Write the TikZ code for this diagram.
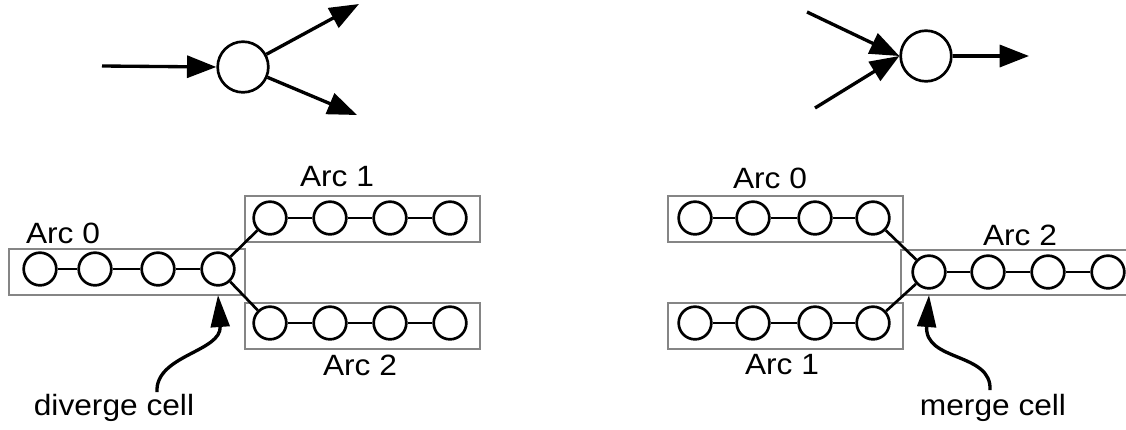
\documentclass[tikz,border=0pt]{standalone}
\usepackage{fontspec}
\setmainfont{Liberation Sans}[FakeStretch=1.08]
\usepackage{tikz}
\usetikzlibrary{arrows.meta, positioning}

\definecolor{boxgray}{RGB}{133,133,133}

\begin{document}
\begin{tikzpicture}[x=0.75pt, y=-0.75pt,
        cell/.style={circle, draw=black, line width=2pt, inner sep=0pt, minimum size=24.5pt},
        bigcell/.style={circle, draw=black, line width=2pt, inner sep=0pt, minimum size=38pt},
        arcbox/.style={draw=boxgray, line width=2pt},
        link/.style={line width=2pt},
        flow/.style={line width=2.5pt, -{Triangle[length=22pt, width=16.5pt]}},
        pointer/.style={line width=2.5pt, -{Triangle[length=24pt, width=14pt]}},
        lbl/.style={font=\fontsize{22pt}{26pt}\selectfont, inner sep=0pt}]
    \useasboundingbox (0,0) rectangle (1126,429);
    \clip (0,0) rectangle (1126,429);

    % top left: one arc splits into two
    \node[bigcell] (split) at (243,67) {};
    \coordinate (inA) at (102,66);
    \coordinate (outA) at (359,4);
    \coordinate (outB) at (357,115);
    \draw[flow] (inA) -- (split.west);
    \draw[flow] (split) -- (outA);
    \draw[flow] (split) -- (outB);

    % top right: two arcs join into one
    \node[bigcell] (join) at (926,56) {};
    \coordinate (inB) at (807,12);
    \coordinate (inC) at (815,108);
    \coordinate (outC) at (1029,56);
    \draw[flow] (inB) -- (join.west);
    \draw[flow] (inC) -- (join.west);
    \draw[flow] (join) -- (outC);

    % bottom left: diverge
    \draw[arcbox] (9,249) rectangle (245,295);
    \draw[arcbox] (245,196) rectangle (480,242);
    \draw[arcbox] (245,303) rectangle (480,349);
    \node[lbl] (dA0) at (63,233) {Arc 0};
    \node[lbl] (dA1) at (337,177) {Arc 1};
    \node[lbl] (dA2) at (360,365) {Arc 2};

    \node[cell] (d0a) at (40,269) {};
    \node[cell] (d0b) at (95,269) {};
    \node[cell] (d0c) at (158,269) {};
    \node[cell] (d0d) at (218,269) {};
    \node[cell] (d1a) at (270,218) {};
    \node[cell] (d1b) at (330,218) {};
    \node[cell] (d1c) at (390,218) {};
    \node[cell] (d1d) at (450,218) {};
    \node[cell] (d2a) at (270,323) {};
    \node[cell] (d2b) at (330,323) {};
    \node[cell] (d2c) at (390,323) {};
    \node[cell] (d2d) at (450,323) {};

    \draw[link] (d0a) -- (d0b);
    \draw[link] (d0b) -- (d0c);
    \draw[link] (d0c) -- (d0d);
    \draw[link] (d1a) -- (d1b);
    \draw[link] (d1b) -- (d1c);
    \draw[link] (d1c) -- (d1d);
    \draw[link] (d2a) -- (d2b);
    \draw[link] (d2b) -- (d2c);
    \draw[link] (d2c) -- (d2d);
    \draw[link] (d0d) -- (d1a);
    \draw[link] (d0d) -- (d2a);

    \node[lbl] (dlab) at (114,408) {diverge cell};
    \coordinate (dtail) at (157,392);
    \coordinate (dtip) at (218,295);
    \draw[pointer] (dtail) .. controls (155,355) and (222,352) .. (dtip);

    % bottom right: merge
    \draw[arcbox] (668,196) rectangle (903,242);
    \draw[arcbox] (668,303) rectangle (903,349);
    \draw[arcbox] (901,250) rectangle (1150,295);
    \node[lbl] (mA0) at (770,178) {Arc 0};
    \node[lbl] (mA1) at (782,365) {Arc 1};
    \node[lbl] (mA2) at (1020,235) {Arc 2};

    \node[cell] (m0a) at (695,218) {};
    \node[cell] (m0b) at (753,218) {};
    \node[cell] (m0c) at (815,218) {};
    \node[cell] (m0d) at (873,218) {};
    \node[cell] (m1a) at (695,323) {};
    \node[cell] (m1b) at (753,323) {};
    \node[cell] (m1c) at (815,323) {};
    \node[cell] (m1d) at (873,323) {};
    \node[cell] (m2a) at (929,272) {};
    \node[cell] (m2b) at (988,272) {};
    \node[cell] (m2c) at (1048,272) {};
    \node[cell] (m2d) at (1108,272) {};

    \draw[link] (m0a) -- (m0b);
    \draw[link] (m0b) -- (m0c);
    \draw[link] (m0c) -- (m0d);
    \draw[link] (m1a) -- (m1b);
    \draw[link] (m1b) -- (m1c);
    \draw[link] (m1c) -- (m1d);
    \draw[link] (m2a) -- (m2b);
    \draw[link] (m2b) -- (m2c);
    \draw[link] (m2c) -- (m2d);
    \draw[link] (m0d) -- (m2a);
    \draw[link] (m1d) -- (m2a);

    \node[lbl] (mlab) at (993,408) {merge cell};
    \coordinate (mtail) at (990,390);
    \coordinate (mtip) at (929,295);
    \draw[pointer] (mtail) .. controls (992,352) and (924,362) .. (mtip);
\end{tikzpicture}
\end{document}
